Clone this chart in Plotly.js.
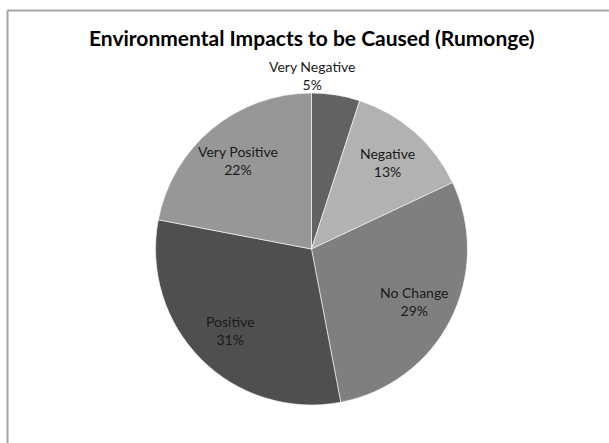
<!DOCTYPE html>
<html>
<head>
<meta charset="utf-8">
<script src="https://cdn.plot.ly/plotly-3.0.1.min.js"></script>
<style>
  html, body { margin: 0; padding: 0; background: #ffffff; }
  #chart { width: 609px; height: 443px; }
</style>
</head>
<body>
<div id="chart"></div>
<script>
// Survey responses on expected environmental impacts, Rumonge
const categories = ['Very Negative', 'Negative', 'No Change', 'Positive', 'Very Positive'];
const shares = [5, 13, 29, 31, 22];
const sliceColors = ['#626262', '#b2b2b2', '#7f7f7f', '#4f4f4f', '#979797'];

const W = 609, H = 443;
const pieDomain = { x: [0.2553, 0.7677], y: [0.0858, 0.790] };
const radiusPx = (pieDomain.x[1] - pieDomain.x[0]) * W / 2;
const cx = (pieDomain.x[0] + pieDomain.x[1]) / 2;
const cy = (pieDomain.y[0] + pieDomain.y[1]) / 2;
const labelFont = { family: 'Lato, sans-serif', size: 14, color: '#1a1a1a' };

const trace = {
  type: 'pie',
  labels: categories,
  values: shares,
  sort: false,
  direction: 'clockwise',
  rotation: 0,
  marker: { colors: sliceColors, line: { color: '#ffffff', width: 0.6 } },
  textinfo: 'none',
  showlegend: false,
  hoverinfo: 'none',
  domain: pieDomain
};

// Data labels: small first slice sits above the pie, the rest inside at a fixed radius
const total = shares.reduce((a, b) => a + b, 0);
let cum = 0;
const annotations = categories.map((name, i) => {
  const mid = (cum + shares[i] / 2) / total * 2 * Math.PI;
  cum += shares[i];
  const pct = Math.round(shares[i] / total * 100) + '%';
  let x, y;
  if (i === 0) {
    x = cx;
    y = cy + radiusPx * 1.11 / H;
  } else {
    const f = 0.74;
    x = cx + radiusPx * f * Math.sin(mid) / W;
    y = cy + radiusPx * f * Math.cos(mid) / H;
  }
  return {
    xref: 'paper', yref: 'paper', x: x, y: y,
    xanchor: 'center', yanchor: 'middle',
    text: name + '<br>' + pct,
    showarrow: false,
    font: labelFont
  };
});

const layout = {
  width: W,
  height: H,
  margin: { l: 0, r: 0, t: 0, b: 0 },
  paper_bgcolor: '#ffffff',
  title: {
    text: '<b>Environmental Impacts to be Caused (Rumonge)</b>',
    font: { family: 'Lato, sans-serif', size: 21, color: '#000000' },
    x: 0.512, xanchor: 'center',
    y: 0.912, yanchor: 'middle'
  },
  annotations: annotations,
  shapes: [
    { type: 'line', xref: 'paper', yref: 'paper', x0: 7.5 / W, x1: 7.5 / W, y0: 0, y1: 1 - 10.5 / H,
      line: { color: '#a6a6a6', width: 2 } },
    { type: 'line', xref: 'paper', yref: 'paper', x0: 7.5 / W, x1: 1, y0: 1 - 10.5 / H, y1: 1 - 10.5 / H,
      line: { color: '#a6a6a6', width: 2 } }
  ]
};

Plotly.newPlot('chart', [trace], layout, { displayModeBar: false, staticPlot: true });
</script>
</body>
</html>
